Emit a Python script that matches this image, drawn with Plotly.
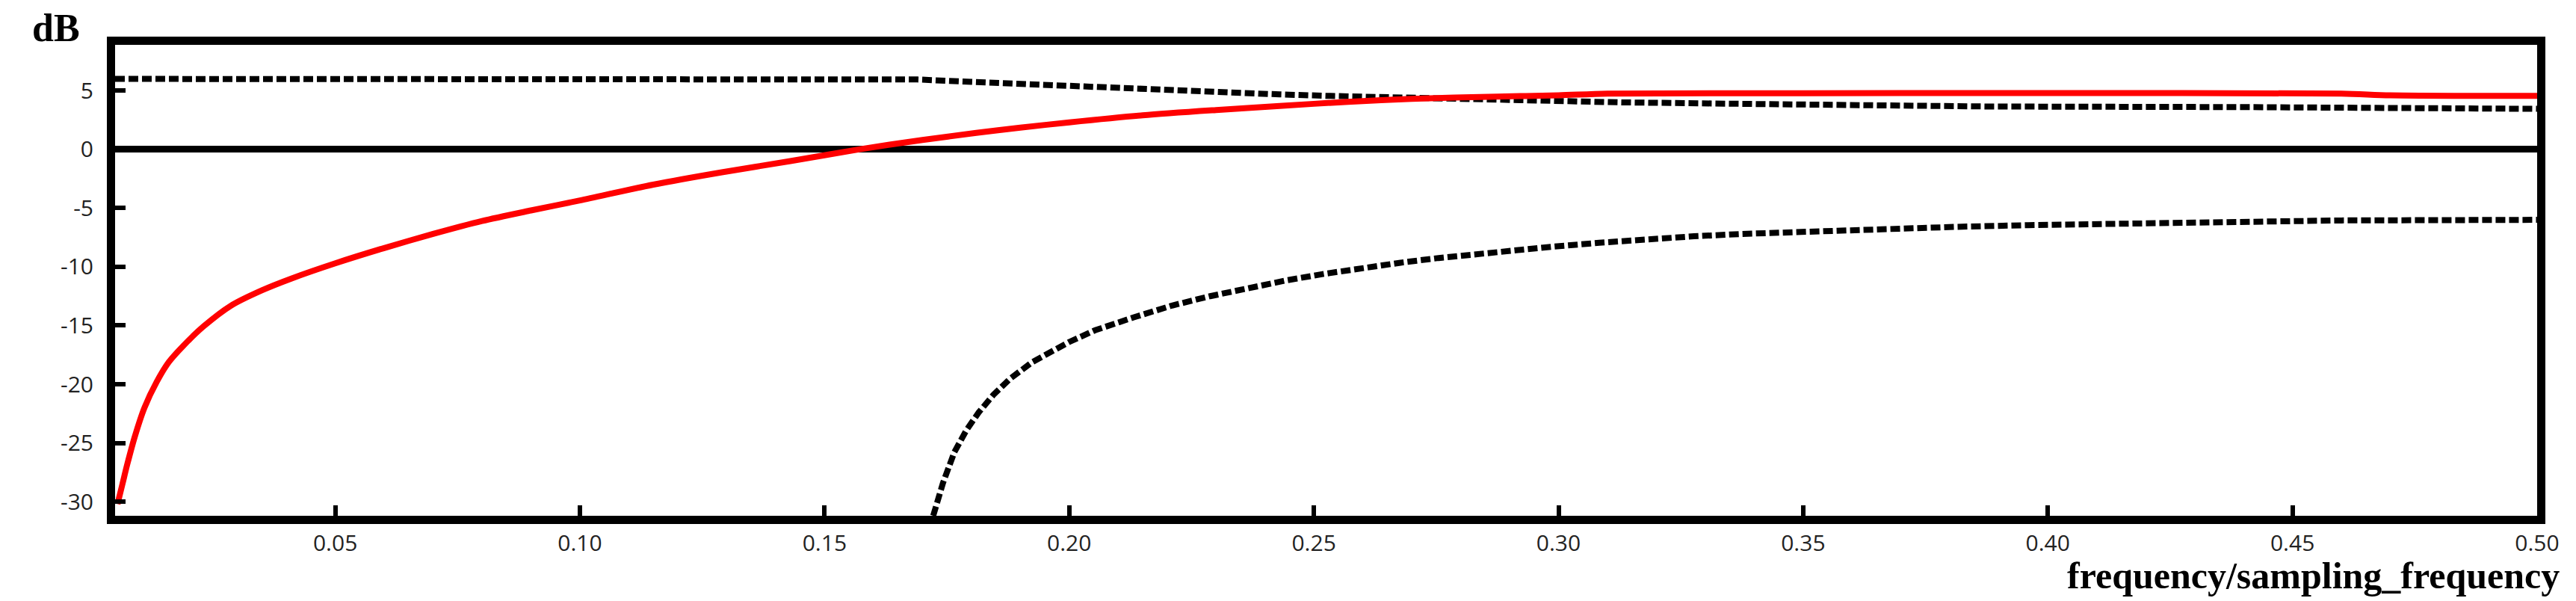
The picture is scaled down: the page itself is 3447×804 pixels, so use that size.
import plotly.graph_objects as go

# ---- data ----
red_f = [0.0055, 0.0065, 0.0075, 0.0090, 0.0110, 0.0135, 0.0160, 0.0190, 0.0230, 0.0287,
         0.0350, 0.0410, 0.050, 0.060, 0.070, 0.080, 0.090, 0.100, 0.115, 0.129,
         0.143, 0.157, 0.170, 0.181, 0.190, 0.200, 0.215, 0.230, 0.243, 0.257,
         0.270, 0.2875, 0.300, 0.310, 0.350, 0.400, 0.460, 0.470, 0.500]
red_db = [-30.2, -28.5, -26.8, -24.5, -22.0, -19.8, -18.1, -16.7, -15.1, -13.3,
          -12.0, -11.0, -9.7, -8.4, -7.2, -6.1, -5.2, -4.35, -3.0, -1.95,
          -1.0, 0.0, 0.8, 1.4, 1.85, 2.3, 2.9, 3.35, 3.7, 4.05,
          4.3, 4.5, 4.6, 4.75, 4.78, 4.8, 4.75, 4.6, 4.55]

upper_f = [0.005, 0.050, 0.100, 0.169, 0.180, 0.1885, 0.202, 0.2124, 0.2226, 0.233,
           0.243, 0.2534, 0.2636, 0.270, 0.280, 0.290, 0.313, 0.343, 0.388, 0.440,
           0.487, 0.500]
upper_db = [6.0, 6.0, 5.98, 5.95, 5.75, 5.6, 5.3, 5.1, 4.95, 4.8,
            4.68, 4.55, 4.45, 4.38, 4.25, 4.15, 4.0, 3.85, 3.65, 3.6,
            3.55, 3.45]

lower_f = [0.1722, 0.1742, 0.1765, 0.1790, 0.1815, 0.1845, 0.1880, 0.1925, 0.200, 0.2053,
           0.2132, 0.221, 0.2288, 0.2366, 0.2444, 0.2521, 0.260, 0.2677, 0.2755, 0.288,
           0.2985, 0.3083, 0.318, 0.3277, 0.3375, 0.347, 0.357, 0.367, 0.381, 0.396,
           0.4155, 0.441, 0.460, 0.500]
lower_db = [-31.2, -28.4, -25.8, -23.9, -22.4, -20.9, -19.5, -18.1, -16.4, -15.4,
            -14.3, -13.3, -12.5, -11.8, -11.15, -10.6, -10.1, -9.65, -9.25, -8.7,
            -8.3, -7.95, -7.65, -7.4, -7.2, -7.05, -6.9, -6.75, -6.6, -6.45,
            -6.3, -6.15, -6.05, -6.0]

x_ticks = [0.05, 0.10, 0.15, 0.20, 0.25, 0.30, 0.35, 0.40, 0.45, 0.50]
x_tick_text = ["0.05", "0.10", "0.15", "0.20", "0.25", "0.30", "0.35", "0.40", "0.45", "0.50"]
y_ticks = [5, 0, -5, -10, -15, -20, -25, -30]
y_tick_text = ["5", "0", "-5", "-10", "-15", "-20", "-25", "-30"]

fig = go.Figure()
fig.add_trace(go.Scatter(x=upper_f, y=upper_db, mode="lines",
                         line=dict(color="black", width=8, dash="13px,5px"),
                         showlegend=False, hoverinfo="skip"))
fig.add_trace(go.Scatter(x=lower_f, y=lower_db, mode="lines",
                         line=dict(color="black", width=8, dash="13px,5px"),
                         showlegend=False, hoverinfo="skip"))
fig.add_trace(go.Scatter(x=red_f, y=red_db, mode="lines", line_shape="spline",
                         line=dict(color="#ff0000", width=8, smoothing=0.8),
                         showlegend=False, hoverinfo="skip"))

tickfont = dict(family="Open Sans, DejaVu Sans, sans-serif", size=30, color="#222222")

fig.update_xaxes(range=[0.005, 0.5], tickvals=x_ticks, ticktext=x_tick_text,
                 showline=True, linewidth=11, linecolor="black", mirror=True,
                 ticks="inside", ticklen=14, tickwidth=6, tickcolor="black",
                 showgrid=False, zeroline=False, tickfont=tickfont)
fig.update_yaxes(range=[-31.2, 8.9], tickvals=y_ticks, ticktext=y_tick_text,
                 showline=True, linewidth=11, linecolor="black", mirror=True,
                 ticks="inside", ticklen=14, tickwidth=6, tickcolor="black",
                 showgrid=False, zeroline=True, zerolinewidth=9, zerolinecolor="black",
                 tickfont=tickfont, ticklabelstandoff=12)

fig.add_annotation(text="<b>dB</b>", xref="paper", yref="paper", x=-0.0244, y=1.035,
                   xanchor="center", yanchor="middle", showarrow=False,
                   font=dict(family="Liberation Serif, Times New Roman, serif", size=52, color="black"))
fig.add_annotation(text="<b>frequency/sampling_frequency</b>", xref="paper", yref="paper",
                   x=1.0099, y=-0.127, xanchor="right", yanchor="middle", showarrow=False,
                   font=dict(family="Liberation Serif, Times New Roman, serif", size=50, color="black"))

fig.update_layout(width=3447, height=804, paper_bgcolor="white", plot_bgcolor="white",
                  margin=dict(l=146, r=60, t=52, b=122))

fig.write_html("out.html")
